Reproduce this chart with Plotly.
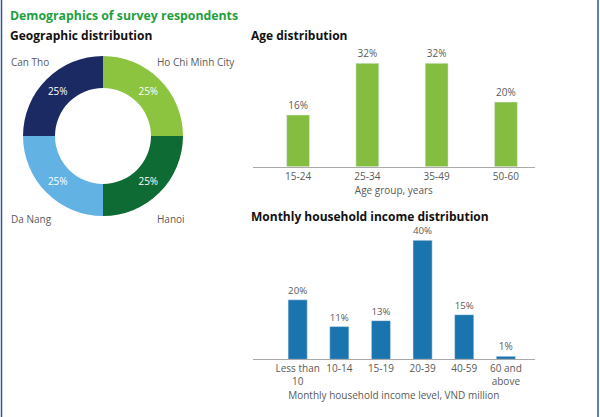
import plotly.graph_objects as go

cidades = ['Ho Chi Minh City', 'Hanoi', 'Da Nang', 'Can Tho']
cidades_pct = [25, 25, 25, 25]
cidades_cores = ['#8CC43F', '#0E6B34', '#62B3E4', '#1C2A63']

idades = ['15-24', '25-34', '35-49', '50-60']
idades_pct = [16, 32, 32, 20]

renda = ['Less than<br>10', '10-14', '15-19', '20-39', '40-59', '60 and<br>above']
renda_pct = [20, 11, 13, 40, 15, 1]

fonte = 'Open Sans'
cinza = '#5a5a5a'

fig = go.Figure()

# donut
fig.add_trace(go.Pie(
    labels=cidades, values=cidades_pct, hole=0.6, sort=False,
    direction='clockwise', rotation=0,
    marker=dict(colors=cidades_cores, line=dict(width=0)),
    textinfo='percent', textposition='inside', insidetextorientation='horizontal',
    texttemplate='%{value}%', textfont=dict(color='white', size=10, family=fonte),
    domain=dict(x=[22/600, 184/600], y=[1-216/417, 1-56/417]),
    showlegend=False,
))

# idade
fig.add_trace(go.Bar(
    x=list(range(len(idades))), y=idades_pct, width=0.33,
    marker_color='#84BD3F', text=[f'{v}%' for v in idades_pct],
    textposition='outside', textfont=dict(color=cinza, size=10, family=fonte),
    cliponaxis=False, xaxis='x', yaxis='y', showlegend=False,
))

# renda
fig.add_trace(go.Bar(
    x=list(range(len(renda))), y=renda_pct, width=0.46,
    marker_color='#1A75AE', text=[f'{v}%' for v in renda_pct],
    textposition='outside', textfont=dict(color=cinza, size=10, family=fonte),
    cliponaxis=False, xaxis='x2', yaxis='y2', showlegend=False,
))

eixo_x = dict(showgrid=False, zeroline=False, showline=True, linecolor='#aaaaaa', linewidth=1,
              ticks='', tickfont=dict(color=cinza, size=10, family=fonte),
              title_font=dict(color=cinza, size=10, family=fonte), title_standoff=2)
eixo_y = dict(showgrid=False, zeroline=False, showticklabels=False, showline=False)

fig.update_layout(
    width=600, height=417,
    margin=dict(l=0, r=0, t=0, b=0),
    paper_bgcolor='white', plot_bgcolor='white',
    font=dict(family=fonte, color=cinza),
    xaxis=dict(eixo_x, domain=[252.7/600, 535/600], range=[-0.655, 3.42], anchor='y',
               tickvals=list(range(len(idades))), ticktext=idades, title_text='Age group, years'),
    yaxis=dict(eixo_y, domain=[1-166.7/417, 1-50.4/417], range=[0, 36], anchor='x'),
    xaxis2=dict(eixo_x, domain=[252.7/600, 535/600], range=[-1.08, 5.70], anchor='y2',
                tickvals=list(range(len(renda))), ticktext=renda,
                title_text='Monthly household income level, VND million'),
    yaxis2=dict(eixo_y, domain=[1-359.3/417, 1-228.4/417], range=[0, 44], anchor='x2'),
)

titulos = [
    ('Demographics of survey respondents', 8, 15, '#1FA040', 12.3),
    ('Geographic distribution', 8, 35, '#111111', 12),
    ('Age distribution', 249, 35, '#111111', 12),
    ('Monthly household income distribution', 249, 216, '#111111', 12),
]
for t, px_, py_, cor, tam in titulos:
    fig.add_annotation(text=f'<b>{t}</b>', x=px_/600, y=1-py_/417, xref='paper', yref='paper',
                       xanchor='left', yanchor='middle', showarrow=False,
                       font=dict(color=cor, size=tam, family=fonte))

rotulos = [('Can Tho', 9, 62), ('Ho Chi Minh City', 155, 62), ('Da Nang', 9, 219), ('Hanoi', 155, 219)]
for t, px_, py_ in rotulos:
    fig.add_annotation(text=t, x=px_/600, y=1-py_/417, xref='paper', yref='paper',
                       xanchor='left', yanchor='middle', showarrow=False,
                       font=dict(color=cinza, size=10, family=fonte))

# bordas azuis
for bx in [1.5, 598]:
    fig.add_shape(type='line', xref='paper', yref='paper', x0=bx/600, x1=bx/600, y0=0, y1=1,
                  line=dict(color='#2D55A0', width=1.5))

fig.write_html('out.html', config={'displayModeBar': False},
               post_script="document.body.style.margin='0px';")
